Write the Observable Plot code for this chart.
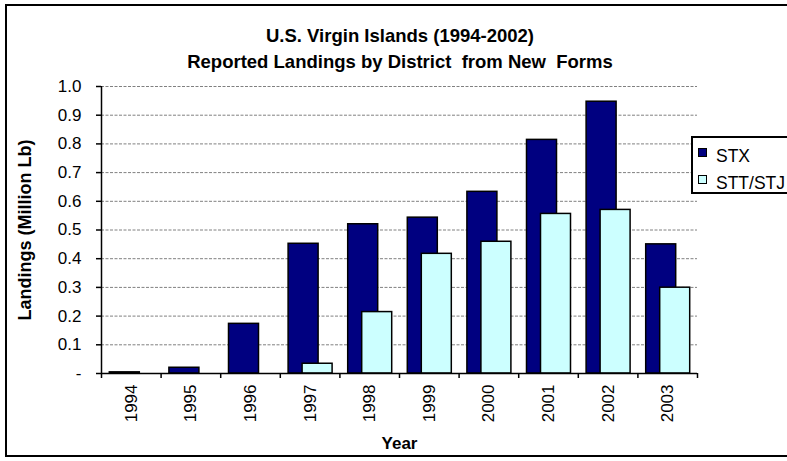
<!DOCTYPE html>
<html>
<head>
<meta charset="utf-8">
<script src="https://cdn.jsdelivr.net/npm/d3@7"></script>
<script src="https://cdn.jsdelivr.net/npm/@observablehq/plot@0.6"></script>
<style>
  ::-webkit-scrollbar { display: none; width: 0; height: 0; }
  html { overflow: hidden; }
  html, body { margin: 0; padding: 0; background: #fff; font-family: "Liberation Sans", Arial, sans-serif; }
  #page { position: relative; width: 787px; height: 461px; overflow: hidden; }
  #frame { position: absolute; left: 5px; top: 4px; width: 900px; height: 453px; border: 2px solid #000; box-sizing: border-box; }
  .title { position: absolute; left: 0; width: 800px; text-align: center; font-weight: bold; font-size: 18.5px; line-height: 22px; color: #000; }
  #chart { position: absolute; left: 0; top: 70px; }
  #legend { position: absolute; left: 691px; top: 136px; width: 220px; height: 58px; border: 2px solid #000; box-sizing: border-box; background: #fff; }
  .item { position: absolute; left: 5px; font-size: 17.5px; line-height: 18px; white-space: nowrap; }
  .sw { display: inline-block; width: 7px; height: 7px; border: 1px solid #000; margin-right: 9px; vertical-align: 5px; }
</style>
</head>
<body>
<div id="page">
<div id="frame"></div>
<div class="title" style="top:25px">U.S. Virgin Islands (1994-2002)</div>
<div class="title" style="top:51px">Reported Landings by District&nbsp; from New&nbsp; Forms</div>
<div id="chart"></div>
<div id="legend"></div>
</div>
<script>
const years = [1994, 1995, 1996, 1997, 1998, 1999, 2000, 2001, 2002, 2003];
const stx = [0.004, 0.02, 0.173, 0.452, 0.52, 0.543, 0.633, 0.814, 0.947, 0.45];
const sttstj = [0, 0, 0, 0.034, 0.214, 0.417, 0.459, 0.556, 0.57, 0.299];
const seriesNames = ["STX", "STT/STJ"];
const seriesColors = ["#000080", "#CCFFFF"];
const yTicks = [0, 0.1, 0.2, 0.3, 0.4, 0.5, 0.6, 0.7, 0.8, 0.9, 1.0];

const stxData = years.map((year, i) => ({year, value: stx[i]}));
const sttData = years.map((year, i) => ({year, value: sttstj[i]}));
const bounds = years.map(y => y - 0.5).concat([years[years.length - 1] + 0.5]);

const font = "'Liberation Sans', Arial, sans-serif";

const chart = Plot.plot({
  width: 787,
  height: 390,
  marginLeft: 101,
  marginRight: 90,
  marginTop: 16,
  marginBottom: 87,
  style: { fontFamily: font, fontSize: "17px", color: "#000", background: "transparent" },
  x: { type: "linear", domain: [bounds[0], bounds[bounds.length - 1]] },
  y: { domain: [0, 1] },
  marks: [
    Plot.gridY(yTicks.slice(1), { stroke: "#808080", strokeOpacity: 1, strokeDasharray: "3,1.5", strokeWidth: 1 }),
    Plot.rectY(stxData, { x1: d => d.year - 0.5, x2: d => d.year + 0.5, y: "value", insetLeft: 8.3, insetRight: 21.3, fill: seriesColors[0], stroke: "#000", strokeWidth: 1.5 }),
    Plot.rectY(sttData.filter(d => d.value > 0), { x1: d => d.year - 0.5, x2: d => d.year + 0.5, y: "value", insetLeft: 22.3, insetRight: 7.3, fill: seriesColors[1], stroke: "#000", strokeWidth: 1.5 }),
    Plot.ruleX([bounds[0]], { y1: 0, y2: 1, stroke: "#000", strokeWidth: 1.5 }),
    Plot.ruleY([0], { stroke: "#000", strokeWidth: 1.5 }),
    Plot.axisY({ ticks: yTicks, tickSize: 5, tickPadding: 15, tickFormat: d => d === 0 ? "-" : d.toFixed(1), fontSize: 17, stroke: "#000", strokeWidth: 1.5, label: null }),
    Plot.axisX({ ticks: bounds, tickSize: 5, tickFormat: () => "", stroke: "#000", strokeWidth: 1.5, label: null }),
    Plot.axisX({ ticks: years, tickSize: 0, tickPadding: 11, tickRotate: -90, tickFormat: d => String(d), fontSize: 17, label: null }),
    Plot.text(["Landings (Million Lb)"], { frameAnchor: "left", textAnchor: "middle", dx: -76, rotate: -90, fontWeight: "bold", fontSize: 18 }),
    Plot.text(["Year"], { frameAnchor: "bottom", dy: 75, fontWeight: "bold", fontSize: 17 })
  ]
});
document.getElementById("chart").appendChild(chart);

const legend = document.getElementById("legend");
seriesNames.forEach((name, i) => {
  const it = document.createElement("div");
  it.className = "item";
  it.style.top = (9 + i * 27) + "px";
  it.innerHTML = `<span class="sw" style="background:${seriesColors[i]}"></span>${name}`;
  legend.appendChild(it);
});
</script>
</body>
</html>
